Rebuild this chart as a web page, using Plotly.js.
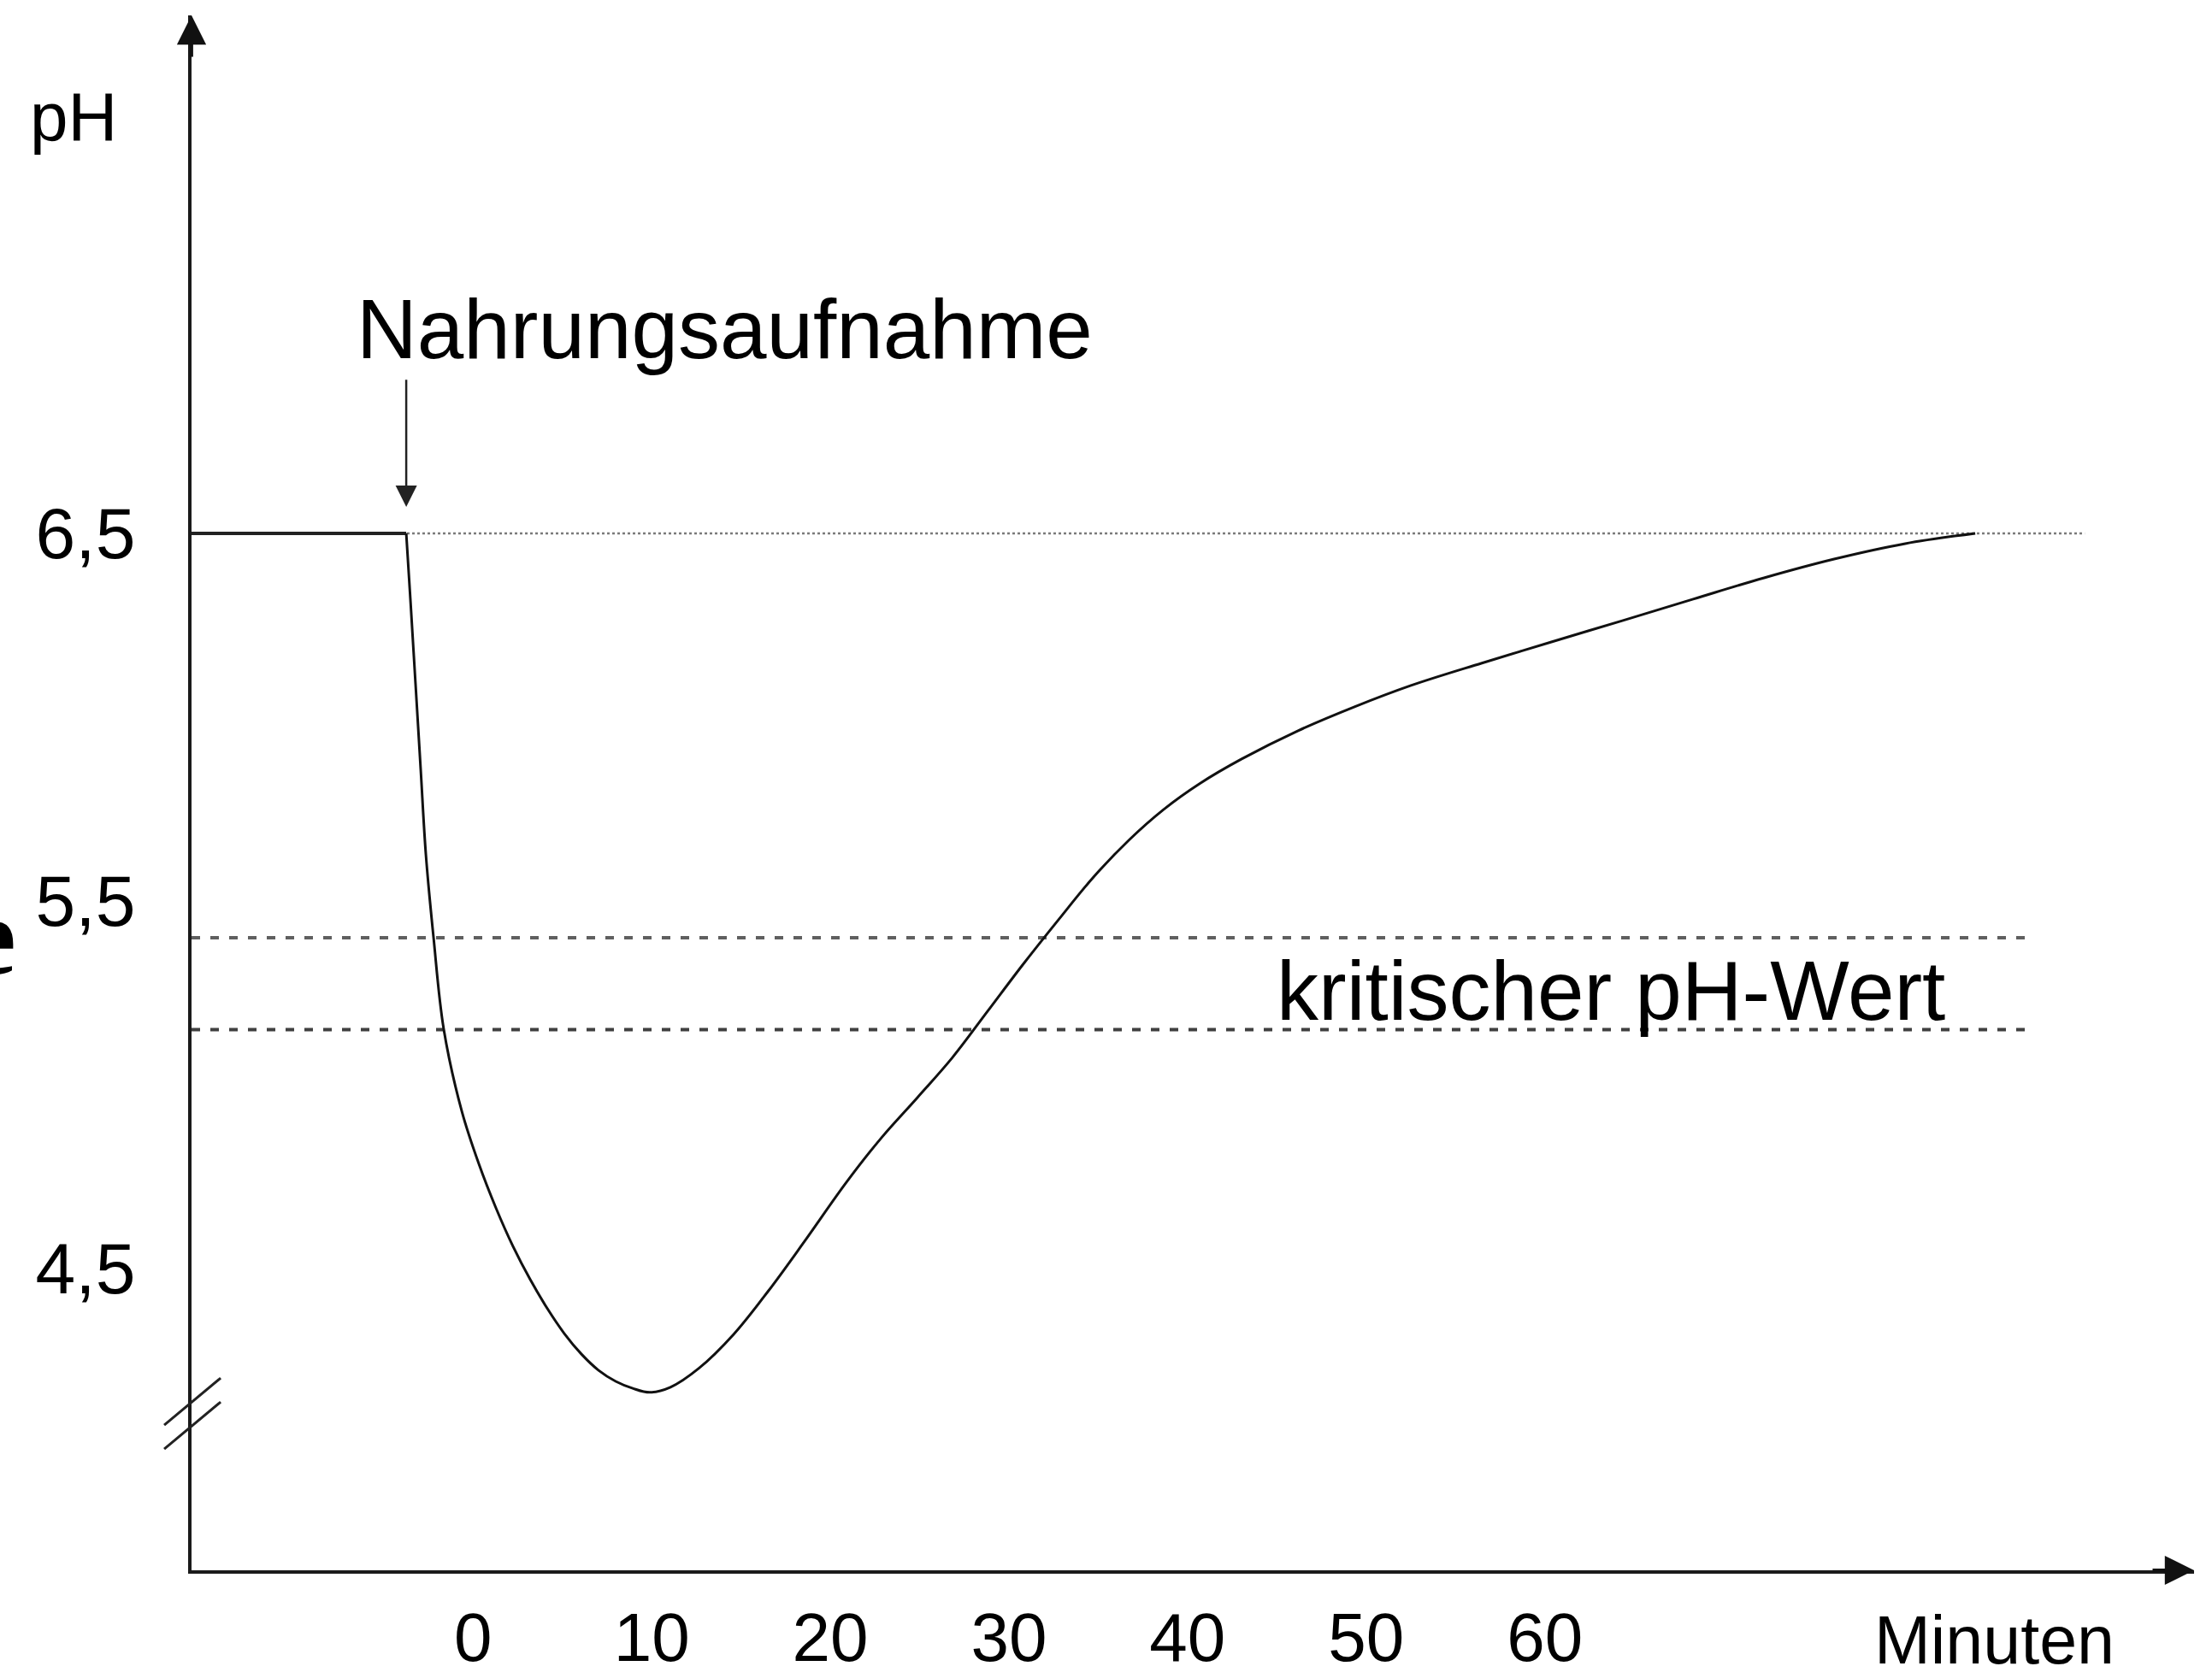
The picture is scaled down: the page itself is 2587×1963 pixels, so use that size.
<!DOCTYPE html>
<html>
<head>
<meta charset="utf-8">
<script src="https://cdn.plot.ly/plotly-3.0.1.min.js"></script>
<style>
  html, body { margin: 0; padding: 0; background: #ffffff; }
  #chart { width: 2587px; height: 1963px; }
</style>
</head>
<body>
<div id="chart"></div>
<script>
// ---------------- data ----------------
// time in minutes and pH values of the plaque pH curve after a meal
const minutes = [-3.74, -3.51, -3.22, -2.93, -2.64, -2.21, -1.64, -0.63, 0.33, 1.28, 2.24, 3.20, 4.16, 5.11,
                 6.07, 7.03, 7.99, 8.94, 9.90,
                 11.05, 12.63, 14.59, 16.55, 18.56, 20.91, 22.87, 24.88, 26.84, 28.81, 30.77, 32.78, 34.74,
                 36.71, 38.67, 40.68, 43.03, 46.19, 49.35, 52.51, 56.48, 60.41, 64.38, 68.31, 72.28, 76.20,
                 80.18, 84.10];
const phValues = [6.500, 6.323, 6.091, 5.858, 5.626, 5.400, 5.151, 4.928, 4.784, 4.665, 4.560, 4.470, 4.391, 4.323,
                  4.267, 4.223, 4.193, 4.174, 4.163,
                  4.177, 4.228, 4.321, 4.440, 4.574, 4.735, 4.856, 4.965, 5.074, 5.200, 5.326, 5.449, 5.565,
                  5.665, 5.749, 5.819, 5.886, 5.963, 6.028, 6.086, 6.147, 6.205, 6.263, 6.321, 6.379, 6.430,
                  6.472, 6.500];

// resting phase before the meal
const restMinutes = [-15.76, -3.74];
const restPH = [6.5, 6.5];

// reference lines
const baselineMinutes = [-15.76, 90.23];
const baselinePH = [6.5, 6.5];
const criticalMinutes = [-15.76, 87.26];
const criticalUpperPH = [5.40, 5.40];
const criticalLowerPH = [5.15, 5.15];

// meal marker
const mealMinute = -3.74;
const mealArrowPH = [6.572, 6.921];   // head, tail

// axis ticks
const xTickVals = [0, 10, 20, 30, 40, 50, 60];
const xTickText = ["0", "10", "20", "30", "40", "50", "60"];
const yTickVals = [4.5, 5.5, 6.5];
const yTickText = ["4,5", "5,5", "6,5"];

// axis extents
const xRange = [-15.76, 96.35];
const yRange = [3.679, 7.909];

// axis break marks (minutes / pH)
const breakMinutes = [-17.29, -14.13];
const breakPH1 = [4.074, 4.202];
const breakPH2 = [4.009, 4.137];

// ---------------- drawing ----------------
const FONT = "Liberation Sans, Arial, Helvetica, sans-serif";
const toPX = t => (t - xRange[0]) / (xRange[1] - xRange[0]);
const toPY = p => (p - yRange[0]) / (yRange[1] - yRange[0]);

const traces = [
  { x: baselineMinutes, y: baselinePH, mode: "lines",
    line: { color: "#7a7a7a", width: 2.5, dash: "3px,3px" }, hoverinfo: "skip" },
  { x: criticalMinutes, y: criticalUpperPH, mode: "lines",
    line: { color: "#606060", width: 4, dash: "10px,12px" }, hoverinfo: "skip" },
  { x: criticalMinutes, y: criticalLowerPH, mode: "lines",
    line: { color: "#404040", width: 4, dash: "10px,12px" }, hoverinfo: "skip" },
  { x: restMinutes, y: restPH, mode: "lines",
    line: { color: "#222222", width: 4 }, hoverinfo: "skip" },
  { x: minutes, y: phValues, mode: "lines",
    line: { color: "#111111", width: 3, shape: "spline", smoothing: 1.0 }, hoverinfo: "skip" }
];

const shapes = [
  { type: "line", xref: "paper", yref: "paper",
    x0: toPX(breakMinutes[0]), y0: toPY(breakPH1[0]), x1: toPX(breakMinutes[1]), y1: toPY(breakPH1[1]),
    line: { color: "#222", width: 3 } },
  { type: "line", xref: "paper", yref: "paper",
    x0: toPX(breakMinutes[0]), y0: toPY(breakPH2[0]), x1: toPX(breakMinutes[1]), y1: toPY(breakPH2[1]),
    line: { color: "#222", width: 3 } }
];

const annotations = [
  // axis arrowheads
  { xref: "paper", yref: "paper", x: 0, y: 1, ax: 0, ay: 50, text: "", showarrow: true,
    arrowhead: 2, arrowsize: 1.8, arrowwidth: 3.8, arrowcolor: "#111" },
  { xref: "paper", yref: "paper", x: 1, y: 0, ax: -50, ay: 0, text: "", showarrow: true,
    arrowhead: 2, arrowsize: 1.8, arrowwidth: 3.8, arrowcolor: "#111" },
  // meal arrow
  { xref: "x", yref: "y", x: mealMinute, y: mealArrowPH[0], axref: "x", ayref: "y",
    ax: mealMinute, ay: mealArrowPH[1], text: "", showarrow: true,
    arrowhead: 2, arrowsize: 2.0, arrowwidth: 2.5, arrowcolor: "#222" },
  { xref: "x", yref: "y", x: -6.62, y: 7.056, xanchor: "left", yanchor: "middle",
    text: "Nahrungsaufnahme", showarrow: false, font: { family: FONT, size: 98, color: "#000" } },
  { xref: "x", yref: "y", x: 44.89, y: 5.256, xanchor: "left", yanchor: "middle",
    text: "kritischer pH-Wert", showarrow: false, font: { family: FONT, size: 98, color: "#000" } },
  // axis titles
  { xref: "paper", yref: "paper", x: -0.0589, y: 0.935, xanchor: "center", yanchor: "middle",
    text: "pH", showarrow: false, font: { family: FONT, size: 80, color: "#000" } },
  { xref: "paper", yref: "paper", x: 0.9001, y: -0.045, xanchor: "center", yanchor: "middle",
    text: "Minuten", showarrow: false, font: { family: FONT, size: 79, color: "#000" } },
  // stray clipped glyph at the left edge
  { xref: "paper", yref: "paper", x: -0.0868, y: 0.408, xanchor: "right", yanchor: "middle",
    text: "<b>e</b>", showarrow: false,
    font: { family: "Liberation Serif, Times New Roman, serif", size: 130, color: "#000" } }
];

const layout = {
  width: 2587, height: 1963,
  margin: { l: 224, r: 21, t: 18, b: 126, pad: 0 },
  paper_bgcolor: "#ffffff", plot_bgcolor: "#ffffff",
  showlegend: false,
  xaxis: {
    range: xRange, tickvals: xTickVals, ticktext: xTickText,
    showgrid: false, zeroline: false, showline: true, linecolor: "#1a1a1a", linewidth: 3.8,
    ticks: "", ticklabelstandoff: 6,
    tickfont: { family: FONT, size: 80, color: "#000" }, fixedrange: true
  },
  yaxis: {
    range: yRange, tickvals: yTickVals, ticktext: yTickText,
    showgrid: false, zeroline: false, showline: true, linecolor: "#1a1a1a", linewidth: 3.8,
    ticks: "", ticklabelstandoff: 45,
    tickfont: { family: FONT, size: 84, color: "#000" }, fixedrange: true
  },
  shapes: shapes,
  annotations: annotations
};

Plotly.newPlot("chart", traces, layout, { displayModeBar: false, staticPlot: true });
</script>
</body>
</html>
